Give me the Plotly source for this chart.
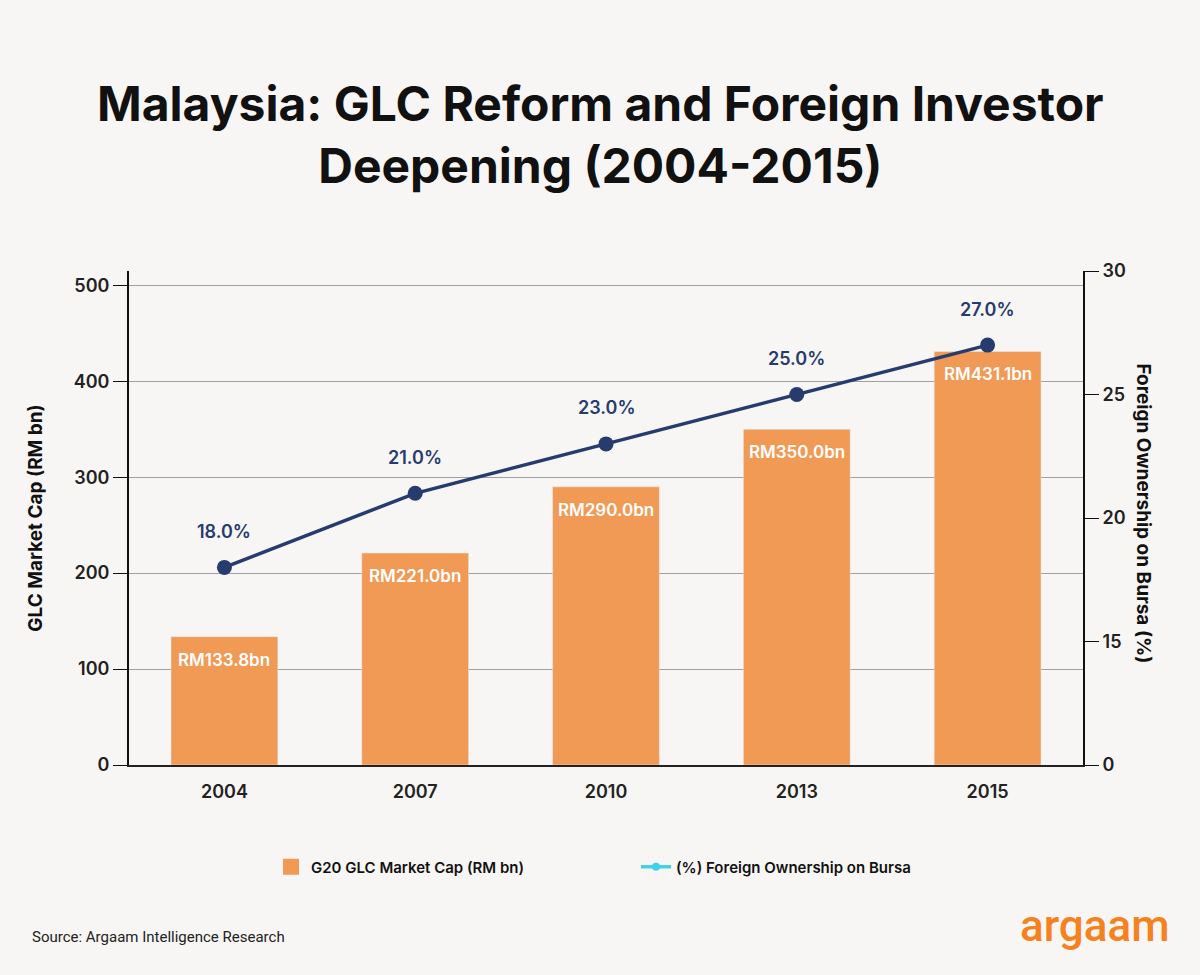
import plotly.graph_objects as go

years = ["2004", "2007", "2010", "2013", "2015"]
market_cap = [133.8, 221.0, 290.0, 350.0, 431.1]
foreign_pct = [18.0, 21.0, 23.0, 25.0, 27.0]
bar_labels = ["RM133.8bn", "RM221.0bn", "RM290.0bn", "RM350.0bn", "RM431.1bn"]
pct_labels = ["18.0%", "21.0%", "23.0%", "25.0%", "27.0%"]
left_ticks = [0, 100, 200, 300, 400, 500]
right_tickvals = [10, 15, 20, 25, 30]
right_ticktext = ["0", "15", "20", "25", "30"]

BG = "#f8f6f4"
ORANGE = "#f09a56"
NAVY = "#263b6e"
CYAN = "#3fd3ea"
FONT = "Inter"

W, H = 1200, 975
L, R, T, B = 129, 117, 271, 210
pw, ph = W - L - R, H - T - B


def px_x(x):
    return (x - L) / pw


def px_y(y):
    return (H - B - y) / ph


fig = go.Figure()
fig.add_trace(go.Bar(
    x=years, y=market_cap, marker_color=ORANGE, width=0.56,
    showlegend=False, hoverinfo="skip"))
fig.add_trace(go.Scatter(
    x=years, y=foreign_pct, yaxis="y2", mode="lines+markers",
    line=dict(color=NAVY, width=3.5), marker=dict(color=NAVY, size=15),
    showlegend=False, hoverinfo="skip"))
# legend entries
fig.add_trace(go.Scatter(x=[years[0]], y=[None], mode="markers",
                         marker=dict(color=ORANGE, symbol="square", size=18),
                         name="G20 GLC Market Cap (RM bn)"))
fig.add_trace(go.Scatter(x=[years[0]], y=[None], yaxis="y2", mode="lines+markers",
                         line=dict(color=CYAN, width=3.5), marker=dict(color=CYAN, size=8),
                         name="(%) Foreign Ownership on Bursa"))

for i, (v, t) in enumerate(zip(market_cap, bar_labels)):
    fig.add_annotation(x=i, y=v, xref="x", yref="y", text=t, showarrow=False,
                       yshift=-23, font=dict(family=FONT, size=17, color="white", weight=600))
for i, (v, t) in enumerate(zip(foreign_pct, pct_labels)):
    fig.add_annotation(x=i, y=v, xref="x", yref="y2", text=t, showarrow=False,
                       yshift=36, font=dict(family=FONT, size=18, color=NAVY, weight=600))

fig.add_annotation(x=px_x(600), y=px_y(134), xref="paper", yref="paper", yanchor="middle",
                   text="Malaysia: GLC Reform and Foreign Investor<br>Deepening (2004-2015)",
                   showarrow=False, font=dict(family=FONT, size=48, color="#111", weight=700))
fig.add_annotation(x=px_x(1157), y=px_y(513), xref="paper", yref="paper", showarrow=False,
                   text="Foreign Ownership on Bursa (%)", textangle=90,
                   font=dict(family=FONT, size=19, color="#111", weight=700))
fig.add_annotation(x=px_x(30), y=px_y(937), xref="paper", yref="paper", xanchor="left",
                   yanchor="middle", text="Source: Argaam Intelligence Research", showarrow=False,
                   font=dict(family="Roboto", size=15, color="#222"))
fig.add_annotation(x=px_x(1172), y=px_y(926), xref="paper", yref="paper", xanchor="right",
                   yanchor="middle", text="argaam", showarrow=False,
                   font=dict(family="Roboto", size=44, color="#f5821f", weight=500))

fig.update_layout(
    width=W, height=H, margin=dict(l=L, r=R, t=T, b=B),
    paper_bgcolor=BG, plot_bgcolor=BG,
    font=dict(family=FONT, color="#222"),
    barmode="overlay",
    xaxis=dict(type="category", range=[-0.5, len(years) - 0.5], autorange=False,
               showline=True, linecolor="#222", linewidth=1.5, ticks="",
               ticklabelstandoff=10,
               showgrid=False, tickfont=dict(size=18, weight=600, color="#222")),
    yaxis=dict(range=[0, 515], tickvals=left_ticks, showgrid=True, gridcolor="#a0a0a0",
               gridwidth=1, showline=True, linecolor="#111", linewidth=2, ticks="outside",
               ticklen=14, tickcolor="#111", tickfont=dict(size=18, weight=600, color="#222"),
               zeroline=False,
               title=dict(text="GLC Market Cap (RM bn)", standoff=26,
                          font=dict(size=19, weight=700, color="#111"))),
    yaxis2=dict(range=[10, 30], overlaying="y", side="right", tickvals=right_tickvals,
                ticktext=right_ticktext, showgrid=False, showline=True, linecolor="#111",
                linewidth=2, ticks="outside", ticklen=14, tickcolor="#111", zeroline=False,
                tickfont=dict(size=18, weight=600, color="#222")),
    legend=dict(orientation="h", x=px_x(271), xanchor="left", y=px_y(867),
                yanchor="middle", entrywidth=320, bgcolor="rgba(0,0,0,0)",
                font=dict(size=15, weight=600, color="#111")),
)

fig.write_html("out.html")
